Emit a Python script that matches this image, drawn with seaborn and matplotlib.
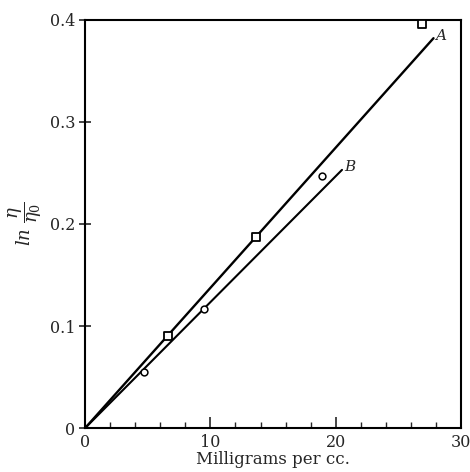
import numpy as np
import pandas as pd
import seaborn as sns
import matplotlib.pyplot as plt

# dados
conc_a = [6.6, 13.6, 26.9]
lnvis_a = [0.090, 0.187, 0.396]
conc_b = [4.7, 9.5, 18.9]
lnvis_b = [0.055, 0.117, 0.247]

# retas ajustadas (extremos)
reta_a_x = [0, 27.8]
reta_a_y = [0, 0.382]
reta_b_x = [0, 20.5]
reta_b_y = [0, 0.253]

xticks_maior = [0, 10, 20, 30]
yticks_maior = [0, 0.1, 0.2, 0.3, 0.4]
ytick_labels = ['0', '0.1', '0.2', '0.3', '0.4']

sns.set_style('white')
plt.rcParams['font.family'] = ['DejaVu Serif']
plt.rcParams['mathtext.fontset'] = 'dejavuserif'

fig = plt.figure(figsize=(4.7, 4.72), dpi=100)
ax = fig.add_axes([0.181, 0.093, 0.800, 0.865])

df_a = pd.DataFrame({'x': reta_a_x, 'y': reta_a_y})
df_b = pd.DataFrame({'x': reta_b_x, 'y': reta_b_y})
sns.lineplot(data=df_a, x='x', y='y', ax=ax, color='black', lw=1.7)
sns.lineplot(data=df_b, x='x', y='y', ax=ax, color='black', lw=1.5)

sns.scatterplot(x=conc_a, y=lnvis_a, ax=ax, marker='s', s=28,
                facecolor='white', edgecolor='black', linewidth=1.3, zorder=3)
sns.scatterplot(x=conc_b, y=lnvis_b, ax=ax, marker='o', s=24,
                facecolor='white', edgecolor='black', linewidth=1.1, zorder=3)

ax.text(reta_a_x[1] + 0.1, reta_a_y[1] + 0.002, 'A', fontsize=11, style='italic',
        ha='left', va='center')
ax.text(reta_b_x[1] + 0.2, reta_b_y[1] + 0.003, 'B', fontsize=11, style='italic',
        ha='left', va='center')

ax.set_xlim(0, 30)
ax.set_ylim(0, 0.4)
ax.set_xticks(xticks_maior)
ax.set_xticks(np.arange(0, 30, 2), minor=True)
ax.set_yticks(yticks_maior)
ax.set_yticklabels(ytick_labels)
ax.tick_params(bottom=True, left=True, top=False, right=False)
ax.tick_params(axis='x', which='minor', bottom=True)
ax.tick_params(axis='x', which='major', direction='in', length=8, width=1.2,
               labelsize=11.5, pad=4)
ax.tick_params(axis='x', which='minor', direction='in', length=4, width=1.0)
ax.tick_params(axis='y', which='major', direction='inout', length=8, width=1.2,
               labelsize=11.5, pad=3)

for s in ax.spines.values():
    s.set_color('black')
    s.set_linewidth(1.5)

ax.set_xlabel('Milligrams per cc.', fontsize=12, labelpad=0)
ax.set_ylabel(r'$\mathit{ln}\ \dfrac{\eta}{\eta_0}$', fontsize=13, labelpad=4)

fig.savefig('out.png', dpi=100)
